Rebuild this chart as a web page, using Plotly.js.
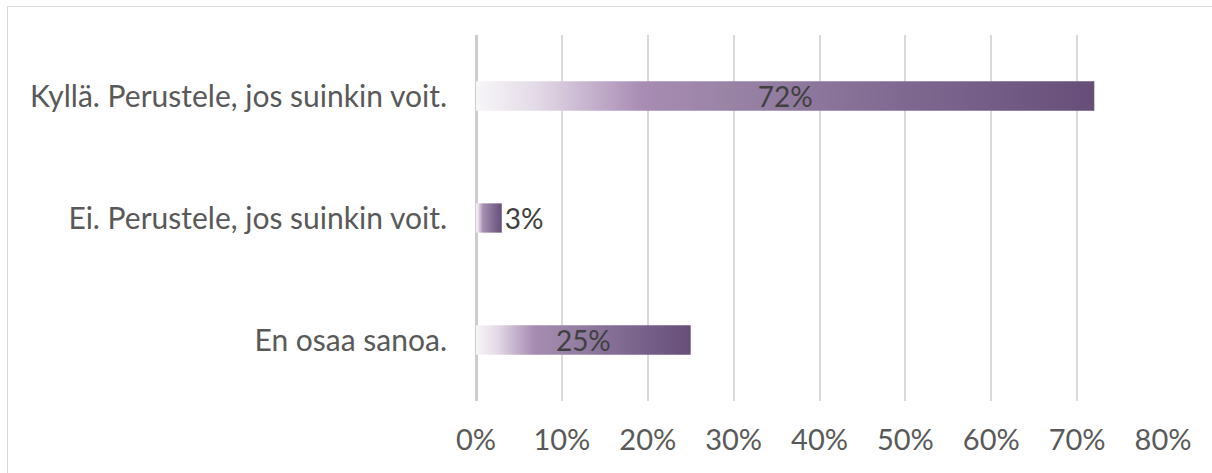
<!DOCTYPE html>
<html>
<head>
<meta charset="utf-8">
<script src="https://cdn.plot.ly/plotly-3.0.1.min.js"></script>
<style>
  html, body { margin: 0; padding: 0; background: #fff; }
  #chart { width: 1212px; height: 473px; position: absolute; left: 0; top: 0; }
  #frame { position: absolute; left: 7px; top: 6px; width: 1220px; height: 480px;
           border-left: 1.5px solid #d9d9d9; border-top: 1.5px solid #d9d9d9;
           pointer-events: none; z-index: 10; }
</style>
</head>
<body>
<div id="chart"></div>
<div id="frame"></div>
<script>
const categories = ['Kyllä. Perustele, jos suinkin voit.', 'Ei. Perustele, jos suinkin voit.', 'En osaa sanoa.'];
const values = [72, 3, 25];
const valueLabels = ['72%', '3%', '25%'];
const tickValues = [0, 10, 20, 30, 40, 50, 60, 70, 80];
const tickLabels = ['0%', '10%', '20%', '30%', '40%', '50%', '60%', '70%', '80%'];

const FONT = 'Lato, "Open Sans", sans-serif';

const trace = {
  type: 'bar',
  orientation: 'h',
  y: categories,
  x: values,
  text: valueLabels,
  textposition: 'auto',
  insidetextanchor: 'middle',
  constraintext: 'none',
  textangle: 0,
  textfont: { family: FONT, size: 28, color: '#404040' },
  insidetextfont: { family: FONT, size: 28, color: '#404040' },
  outsidetextfont: { family: FONT, size: 28, color: '#404040' },
  marker: { color: '#8a7199', line: { width: 0 } },
  hoverinfo: 'none',
  cliponaxis: false
};

const layout = {
  width: 1212,
  height: 473,
  margin: { l: 476, r: 49, t: 35, b: 72 },
  paper_bgcolor: '#ffffff',
  plot_bgcolor: '#ffffff',
  showlegend: false,
  bargap: 0.76,
  xaxis: {
    range: [0, 80],
    tickvals: tickValues,
    ticktext: tickLabels,
    showgrid: true,
    gridcolor: '#d9d9d9',
    gridwidth: 2,
    zeroline: true,
    zerolinecolor: '#cccccc',
    zerolinewidth: 3,
    showline: false,
    ticks: '',
    ticklabelstandoff: 19,
    tickfont: { family: FONT, size: 29, color: '#595959' },
    fixedrange: true
  },
  yaxis: {
    autorange: 'reversed',
    showgrid: false,
    zeroline: false,
    showline: false,
    ticks: '',
    ticklabelstandoff: 28,
    tickfont: { family: FONT, size: 30, color: '#595959' },
    fixedrange: true
  }
};

Plotly.newPlot('chart', [trace], layout, { staticPlot: true, displayModeBar: false }).then(function (gd) {
  const svgNS = 'http://www.w3.org/2000/svg';
  const svg = gd.querySelector('svg.main-svg');
  let defs = svg.querySelector('defs');
  if (!defs) { defs = document.createElementNS(svgNS, 'defs'); svg.insertBefore(defs, svg.firstChild); }
  const grad = document.createElementNS(svgNS, 'linearGradient');
  grad.setAttribute('id', 'barGrad');
  grad.setAttribute('x1', '0'); grad.setAttribute('y1', '0');
  grad.setAttribute('x2', '1'); grad.setAttribute('y2', '0');
  const stops = [[0, '#f8f6f9'], [0.1, '#e3d9e6'], [0.2, '#c0abc9'], [0.27, '#a88cb3'],
                 [0.4, '#9a84a6'], [0.7, '#7e6890'], [1, '#664e79']];
  stops.forEach(function (s) {
    const st = document.createElementNS(svgNS, 'stop');
    st.setAttribute('offset', s[0]);
    st.setAttribute('stop-color', s[1]);
    grad.appendChild(st);
  });
  defs.appendChild(grad);
  gd.querySelectorAll('.barlayer .point path').forEach(function (p) {
    p.style.fill = 'url(#barGrad)';
    p.style.fillOpacity = 1;
  });
});
</script>
</body>
</html>
